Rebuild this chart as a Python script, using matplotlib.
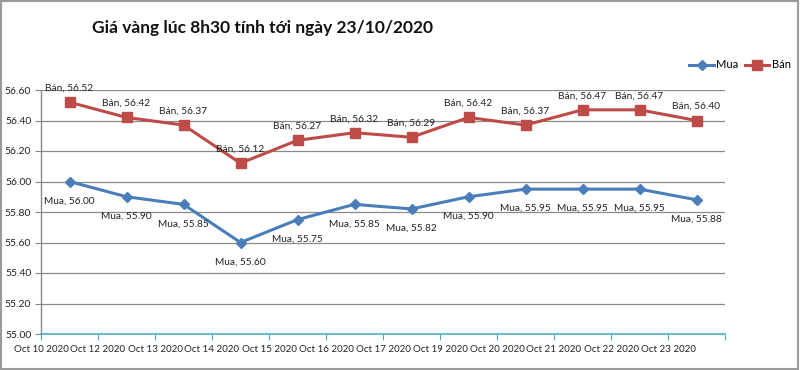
import matplotlib
matplotlib.use("Agg")
import matplotlib.pyplot as plt
from matplotlib.lines import Line2D
from matplotlib.patches import Rectangle

plt.rcParams['font.family'] = ['Lato', 'DejaVu Sans']

dates = ["Oct 10 2020", "Oct 12 2020", "Oct 13 2020", "Oct 14 2020", "Oct 15 2020",
         "Oct 16 2020", "Oct 17 2020", "Oct 19 2020", "Oct 20 2020", "Oct 21 2020",
         "Oct 22 2020", "Oct 23 2020"]
mua = [56.00, 55.90, 55.85, 55.60, 55.75, 55.85, 55.82, 55.90, 55.95, 55.95, 55.95, 55.88]
ban = [56.52, 56.42, 56.37, 56.12, 56.27, 56.32, 56.29, 56.42, 56.37, 56.47, 56.47, 56.40]
yticks = [55.00, 55.20, 55.40, 55.60, 55.80, 56.00, 56.20, 56.40, 56.60]
title = "Giá vàng lúc 8h30 tính tới ngày 23/10/2020"

blue = "#4a7ebb"
red = "#be4b48"

fig = plt.figure(figsize=(8, 3.7), dpi=100)
ax = fig.add_axes([41/800, 1-334/370, (725-41)/800, (334-90)/370])

x = [i + 0.5 for i in range(len(dates))]
ax.plot(x, mua, color=blue, lw=2.2, marker='D', ms=5, mfc=blue, mec=blue, zorder=3)
ax.plot(x, ban, color=red, lw=2.2, marker='s', ms=6.5, mfc=red, mec=red, zorder=3)

for xi, v in zip(x, mua):
    ax.annotate(f"Mua, {v:.2f}", (xi, v), xytext=(0, -14), textcoords='offset points',
                ha='center', va='center', fontsize=7.3, color='#222222')
for xi, v in zip(x, ban):
    ax.annotate(f"Bán, {v:.2f}", (xi, v), xytext=(0, 10), textcoords='offset points',
                ha='center', va='center', fontsize=7.3, color='#222222')

ax.set_xlim(0, len(dates))
ax.set_ylim(55.0, 56.6)
ax.set_yticks(yticks)
ax.set_yticklabels([f"{t:.2f}" for t in yticks], fontsize=7.5, color='#222222')
ax.set_xticks(range(len(dates) + 1))
ax.set_xticklabels(dates + [""], fontsize=7, color='#222222')
ax.tick_params(axis='y', length=4, color='#888888', direction='out', pad=3)
ax.tick_params(axis='x', length=4, color='#4bacc6', direction='out', pad=4)

for t in yticks[1:]:
    ax.axhline(t, color='#8a8a8a', lw=0.9, zorder=1)

for s in ['top', 'right']:
    ax.spines[s].set_visible(False)
ax.spines['left'].set_color('#888888')
ax.spines['left'].set_linewidth(1.0)
ax.spines['bottom'].set_color('#4bacc6')
ax.spines['bottom'].set_linewidth(1.2)

fig.text(92/800, 1-28/370, title, fontsize=12.5, fontweight='bold', ha='left', va='center', color='#111111')

handles = [Line2D([], [], color=blue, lw=2.2, marker='D', ms=5),
           Line2D([], [], color=red, lw=2.2, marker='s', ms=6.5)]
fig.legend(handles, ["Mua", "Bán"], loc='center right', bbox_to_anchor=(795/800, 1-65/370),
           ncol=2, frameon=False, fontsize=8, handlelength=2.2, handletextpad=0.2,
           columnspacing=0.6, borderaxespad=0)

fig.patches.append(Rectangle((0.001, 0.002), 0.997, 0.995, transform=fig.transFigure,
                             fill=False, edgecolor='#9a9a9a', lw=1.5))

fig.savefig("out.png", dpi=100)
